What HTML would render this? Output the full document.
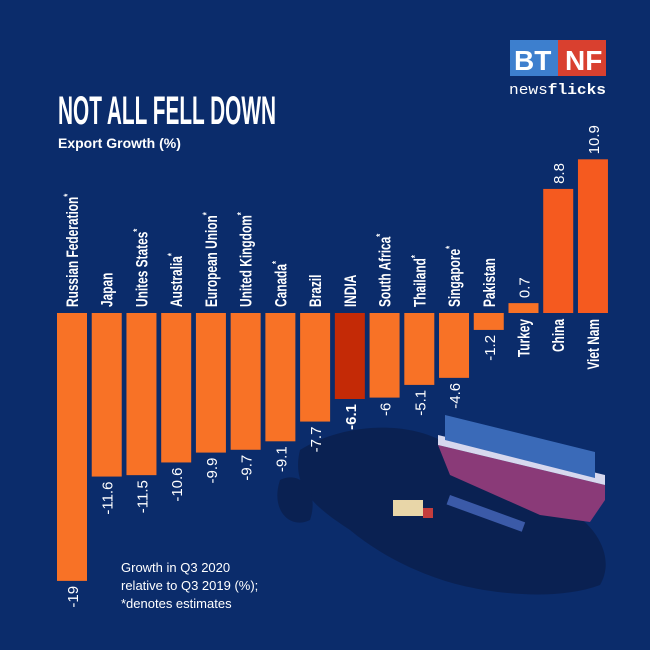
<!DOCTYPE html>
<html><head><meta charset="utf-8"><style>
html,body{margin:0;padding:0;background:#0b2c6b;}
svg{display:block;font-family:"Liberation Sans Narrow","Liberation Sans",sans-serif;}
</style></head><body>
<svg width="650" height="650" viewBox="0 0 650 650">
<rect width="650" height="650" fill="#0b2c6b"/>
<g fill="#0a2152">
<path d="M300 450 C340 425 400 420 440 440 C480 450 520 480 560 505 C600 525 615 560 600 585 C560 600 500 595 460 585 C420 575 380 555 350 530 C320 510 290 490 300 450Z"/>
<path d="M280 480 C300 470 320 490 310 520 C290 530 270 510 280 480Z"/>
</g>
<g>
<path d="M438 445 L605 485 L605 500 L590 522 L540 515 L450 475Z" fill="#8a3a78"/>
<path d="M438 435 L605 475 L605 485 L438 445Z" fill="#d7d8ee"/>
<path d="M445 415 L595 452 L595 478 L445 440Z" fill="#3a6ab8"/>
</g>
<g>
<rect x="393" y="500" width="30" height="16" fill="#e8d6a8"/>
<rect x="423" y="508" width="10" height="10" fill="#c43d3d"/>
</g>
<g>
<rect x="450" y="495" width="80" height="10" fill="#3b5aa8" transform="rotate(20 450 495)"/>
</g>
<text x="58" y="124" fill="#fff" font-size="40" font-weight="bold" textLength="218" lengthAdjust="spacingAndGlyphs">NOT ALL FELL DOWN</text>
<text x="58" y="148" fill="#fff" font-size="14" font-weight="bold" font-family="Liberation Sans, sans-serif">Export Growth (%)</text>
<g>
<rect x="510" y="40" width="48" height="36" fill="#3d7fce"/>
<rect x="558" y="40" width="48" height="36" fill="#d9402f"/>
<text x="514" y="70" fill="#fff" font-size="28" font-weight="bold" font-family="Liberation Sans, sans-serif">BT</text>
<text x="565" y="70" fill="#fff" font-size="28" font-weight="bold" font-family="Liberation Sans, sans-serif">NF</text>
<text x="509" y="94" fill="#fff" font-size="15" font-family="Liberation Mono, monospace" textLength="97" lengthAdjust="spacingAndGlyphs">news<tspan font-weight="bold">flicks</tspan></text>
</g>
<g id="bars"></g>
<text font-size="13" fill="#fff" font-family="Liberation Sans, sans-serif"><tspan x="121" y="572">Growth in Q3 2020</tspan><tspan x="121" y="590">relative to Q3 2019 (%);</tspan><tspan x="121" y="608">*denotes estimates</tspan></text>
</svg>
<script>
const countries=["Russian Federation","Japan","Unites States","Australia","European Union","United Kingdom","Canada","Brazil","INDIA","South Africa","Thailand","Singapore","Pakistan","Turkey","China","Viet Nam"];
const values=[-19,-11.6,-11.5,-10.6,-9.9,-9.7,-9.1,-7.7,-6.1,-6,-5.1,-4.6,-1.2,0.7,8.8,10.9];
const valueLabels=["-19","-11.6","-11.5","-10.6","-9.9","-9.7","-9.1","-7.7","-6.1","-6","-5.1","-4.6","-1.2","0.7","8.8","10.9"];
const estimated=[true,false,true,true,true,true,true,false,false,true,true,true,false,false,false,false];
const NS="http://www.w3.org/2000/svg";
const baseY=313,scale=14.1,x0=57,pitch=34.73,bw=30;
function xPos(i){return x0+i*pitch;}
function yPos(v){return baseY-v*scale;}
const g=document.getElementById('bars');
function mk(t,a){const e=document.createElementNS(NS,t);for(const k in a)e.setAttribute(k,a[k]);return e;}
countries.forEach((c,i)=>{
  const v=values[i],x=xPos(i),y=yPos(v);
  const color=c==="INDIA"?"#c42a06":(v>5?"#f55a1f":"#f87226");
  const r=mk('rect',{x:x,y:Math.min(y,baseY),width:bw,height:Math.abs(y-baseY),fill:color});
  
  
  g.appendChild(r);
  const cx=x+bw/2+6;
  const lab=mk('text',{fill:'#fff','font-size':'17','font-weight':'bold','text-anchor':v<0?'start':'end'});
  const ly=v<0?baseY-6:baseY+6;
  lab.setAttribute('transform','translate('+cx+','+ly+') rotate(-90) scale(0.7,1)');
  lab.textContent=c;
  if(estimated[i]){const s=mk('tspan',{'font-size':'11',dy:'-7'});s.textContent='*';lab.appendChild(s);}
  
  
  g.appendChild(lab);
  const vl=mk('text',{fill:'#fff','font-size':'15','font-family':'Liberation Sans, sans-serif','font-weight':c==="INDIA"?'bold':'normal','text-anchor':v<0?'end':'start'});
  const vy=v<0?y+5:y-5;
  vl.setAttribute('transform','translate('+cx+','+vy+') rotate(-90)');
  vl.textContent=valueLabels[i];
  
  
  g.appendChild(vl);
});
</script>
</body></html>
